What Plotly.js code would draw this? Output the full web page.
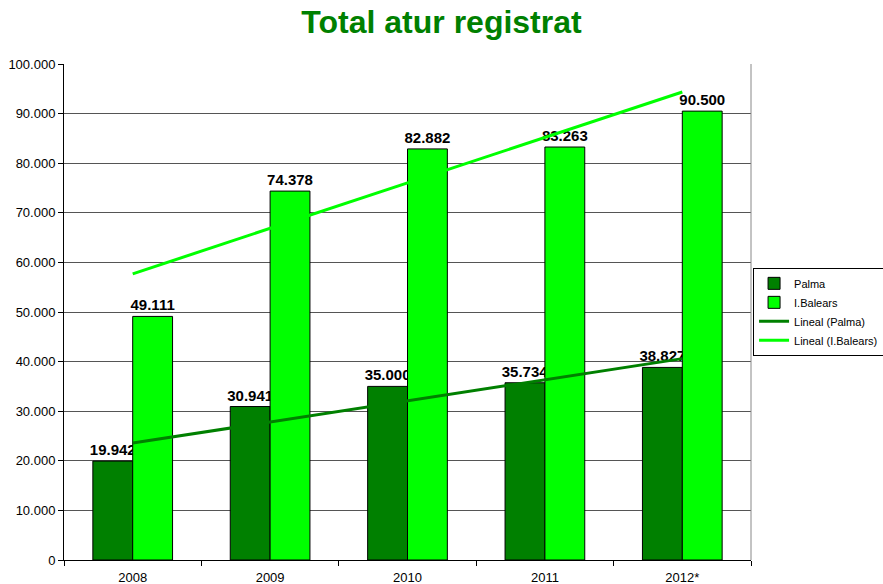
<!DOCTYPE html>
<html>
<head>
<meta charset="utf-8">
<script src="https://cdn.plot.ly/plotly-3.0.1.min.js"></script>
<style>html,body{margin:0;padding:0;background:#fff;}#chart{width:883px;height:584px;}</style>
</head>
<body>
<div id="chart"></div>
<script>
var years = ['2008', '2009', '2010', '2011', '2012*'];
var palma = [19942, 30941, 35000, 35734, 38827];
var balears = [49111, 74378, 82882, 83263, 90500];
var yTicks = [0, 10000, 20000, 30000, 40000, 50000, 60000, 70000, 80000, 90000, 100000];

function linearTrend(vals) {
  var n = vals.length, mx = 0, my = 0, sxy = 0, sxx = 0;
  for (var i = 0; i < n; i++) { mx += i; my += vals[i]; }
  mx /= n; my /= n;
  for (var j = 0; j < n; j++) { sxy += (j - mx) * (vals[j] - my); sxx += (j - mx) * (j - mx); }
  var b = sxy / sxx, a = my - b * mx;
  return vals.map(function (v, k) { return a + b * k; });
}

var labelFont = {family: 'Arial, Liberation Sans, sans-serif', size: 15, color: '#000'};

var traces = [
  {type: 'bar', name: 'Palma', x: years, y: palma,
   marker: {color: '#008000', line: {color: '#000', width: 1}},
   texttemplate: '<b>%{y:,d}</b>', textposition: 'outside', constraintext: 'none',
   textfont: labelFont, cliponaxis: false, hoverinfo: 'skip'},
  {type: 'bar', name: 'I.Balears', x: years, y: balears,
   marker: {color: '#00FF00', line: {color: '#000', width: 1}},
   texttemplate: '<b>%{y:,d}</b>', textposition: 'outside', constraintext: 'none',
   textfont: labelFont, cliponaxis: false, hoverinfo: 'skip'},
  {type: 'scatter', mode: 'lines', name: 'Lineal (Palma)', x: years, y: linearTrend(palma),
   line: {color: '#008000', width: 3}, hoverinfo: 'skip'},
  {type: 'scatter', mode: 'lines', name: 'Lineal (I.Balears)', x: years, y: linearTrend(balears),
   line: {color: '#00FF00', width: 3}, hoverinfo: 'skip'}
];

var layout = {
  width: 883, height: 584,
  margin: {l: 64, r: 132, t: 64, b: 24, autoexpand: false},
  paper_bgcolor: '#fff', plot_bgcolor: '#fff',
  separators: ',.',
  font: {family: 'Arial, Liberation Sans, sans-serif', size: 12, color: '#000'},
  title: {text: '<b>Total atur registrat</b>', font: {family: 'Arial, Liberation Sans, sans-serif', size: 32, color: '#008000'},
          x: 0.5, xanchor: 'center', y: 0.962, yanchor: 'middle'},
  barmode: 'group', bargap: 0.42, bargroupgap: 0,
  xaxis: {type: 'category', showline: true, linecolor: '#000', linewidth: 1,
          ticks: 'outside', tickson: 'boundaries', ticklen: 5, tickcolor: '#000',
          ticklabelstandoff: 5,
          showgrid: false, tickfont: {size: 13}, fixedrange: true},
  yaxis: {range: [0, 100000], tickvals: yTicks, tickformat: ',d', showline: true, linecolor: '#000', linewidth: 1,
          ticks: 'outside', ticklen: 5, tickcolor: '#000', showgrid: true, gridcolor: '#555', gridwidth: 1,
          zeroline: false, tickfont: {size: 13}, fixedrange: true},
  legend: {x: 1.003, xanchor: 'left', y: 0.589, yanchor: 'top', bordercolor: '#000', borderwidth: 1,
           bgcolor: '#fff', font: {size: 11}, tracegroupgap: 0, itemwidth: 30},
  shapes: [{type: 'line', xref: 'paper', yref: 'paper', x0: 1, x1: 1, y0: 0, y1: 1, line: {color: '#888', width: 1}}]
};

Plotly.newPlot('chart', traces, layout, {displayModeBar: false, staticPlot: true});
</script>
</body>
</html>
